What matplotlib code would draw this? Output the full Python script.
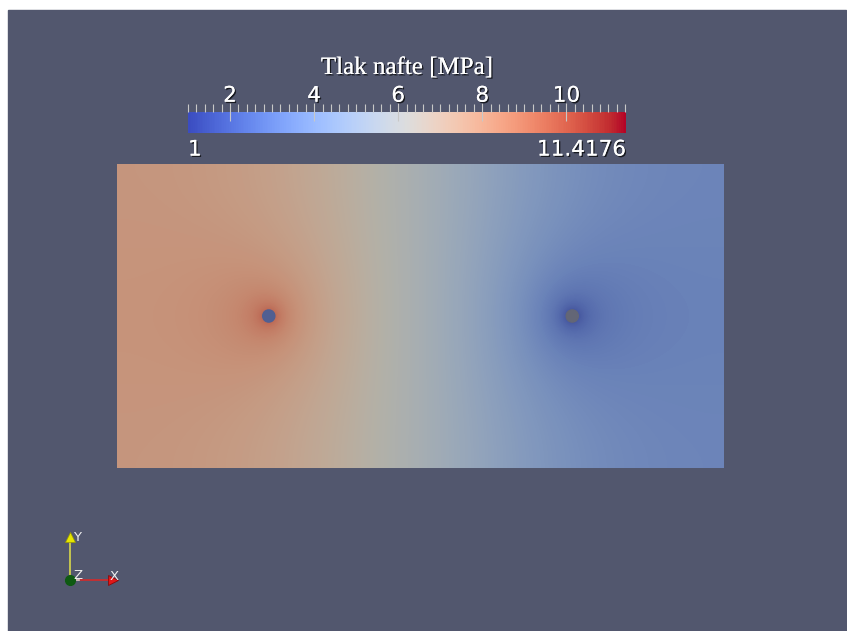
import numpy as np
import matplotlib.pyplot as plt
from matplotlib import patheffects
from matplotlib.colors import Normalize, to_rgb
from matplotlib.cm import ScalarMappable
from matplotlib.ticker import MultipleLocator

# reservoir block (2 x 1), injector left, producer right, closed boundaries
domain_w, domain_h = 2.0, 1.0
injector = (0.5, 0.5)
producer = (1.5, 0.5)
well_radius = 0.02

p_mid = 4.8        # pressure between the wells [MPa]
p_swing = 3.3      # plateau offset behind each well [MPa]
p_min, p_max = 1.0, 11.4176
bar_ticks = [2, 4, 6, 8, 10]
bar_title = "Tlak nafte [MPa]"

# screen layout (pixels)
W, H = 847, 631
panel_color = "#52576e"
field_px = (117, 724, 164, 468)          # left, right, top, bottom
bar_px = (188, 626, 112.3, 133.3)
surface_opacity = 0.76
light_tint = np.array([0.95, 0.93, 0.84])


def log_images(x0, y0, n=8):
    """Sum of ln r for a well mirrored across the four no-flow walls."""
    total = np.zeros_like(X)
    for k in range(-n, n + 1):
        for xi in (x0 + 2 * domain_w * k, -x0 + 2 * domain_w * k):
            for m in range(-n, n + 1):
                for yi in (y0 + 2 * domain_h * m, -y0 + 2 * domain_h * m):
                    total += 0.5 * np.log((X - xi) ** 2 + (Y - yi) ** 2)
    return total


nx, ny = 607, 304
X, Y = np.meshgrid(np.linspace(0, domain_w, nx), np.linspace(0, domain_h, ny))
phi = log_images(*producer) - log_images(*injector)
phi_ref = phi[ny // 2, 0]
pressure = p_mid + p_swing * phi / phi_ref

norm = Normalize(p_min, p_max)
cmap = plt.get_cmap("coolwarm")
rgb = cmap(norm(pressure))
bg = np.array(to_rgb(panel_color))
shaded = rgb[..., :3] * light_tint
rgb[..., :3] = surface_opacity * shaded + (1 - surface_opacity) * bg
for wx, wy in (injector, producer):
    inside = (X - wx) ** 2 + (Y - wy) ** 2 < well_radius ** 2
    rgb[inside, 3] = 0.0

fig = plt.figure(figsize=(W / 100, H / 100), dpi=100)
ax = fig.add_axes([0, 0, 1, 1])
ax.set_xlim(0, W)
ax.set_ylim(H, 0)
ax.axis("off")
ax.add_patch(plt.Rectangle((8, 10), 838, 621, color=panel_color, zorder=0))

left, right, top, bottom = field_px
ax.imshow(rgb, extent=(left, right, bottom, top), origin="lower",
          interpolation="bilinear", zorder=1)
ax.set_xlim(0, W)
ax.set_ylim(H, 0)

sx = (right - left) / domain_w
sy = (bottom - top) / domain_h
hole_colors = {injector: "#505f92", producer: "#636676"}
for well in (injector, producer):
    cx = left + well[0] * sx
    cy = bottom - well[1] * sy
    ax.add_patch(plt.Circle((cx, cy), well_radius * sy,
                            color=hole_colors[well], zorder=2))

# scalar bar
shadow = [patheffects.withSimplePatchShadow(offset=(1, -1), shadow_rgbFace="black", alpha=0.7),
          patheffects.Normal()]
bl, br, bt, bb = bar_px
cax = fig.add_axes([bl / W, 1 - bb / H, (br - bl) / W, (bb - bt) / H])
cb = fig.colorbar(ScalarMappable(norm=norm, cmap=cmap), cax=cax, orientation="horizontal")
cb.outline.set_visible(False)
cb.set_ticks(bar_ticks)
cax.xaxis.set_ticks_position("top")
cax.xaxis.set_minor_locator(MultipleLocator(0.2))
cax.tick_params(which="major", direction="inout", length=13.5, width=0.8,
                color="#c8c8c8", pad=-2, labelsize=15.5, labelcolor="white")
cax.tick_params(which="minor", direction="out", length=6, width=0.8, color="#c8c8c8")
for t in cax.get_xticklabels():
    t.set_path_effects(shadow)

xform = cax.get_xaxis_transform()
cax.text(p_min, -0.3, f"{p_min:g}", transform=xform, ha="left", va="top",
         fontsize=15.5, color="white", path_effects=shadow)
cax.text(p_max, -0.3, f"{p_max:g}", transform=xform, ha="right", va="top",
         fontsize=15.5, color="white", path_effects=shadow)

ax.text((bl + br) / 2, 74, bar_title, family="Liberation Serif", fontsize=18,
        color="white", ha="center", va="baseline", path_effects=shadow)

# orientation triad
ox, oy = 69.5, 580
ax.plot([ox, ox], [oy, 537], color="#d8d84a", lw=1.2, zorder=3)
ax.plot([ox, 112], [oy, oy], color="#d42a2a", lw=1.2, zorder=3)
ax.plot([ox, 79], [oy, oy], color="#d0d0d0", lw=1.2, zorder=3)
ax.plot(ox, 537, marker="^", ms=7.5, color="#e6e600", mec="#9a9a00", mew=0.5, zorder=4)
ax.plot(112.5, oy, marker=">", ms=7.5, color="#e01818", mec="#8a0000", mew=0.5, zorder=4)
ax.plot(ox, oy, marker="o", ms=7, color="#0e5a12", zorder=5)
for label, lx, ly in (("Y", 73, 541), ("Z", 73, 579), ("X", 110, 580)):
    ax.text(lx, ly, label, fontsize=9.5, color="#eeeeee", ha="left", va="baseline", zorder=6)

fig.savefig("out.png", dpi=100)
